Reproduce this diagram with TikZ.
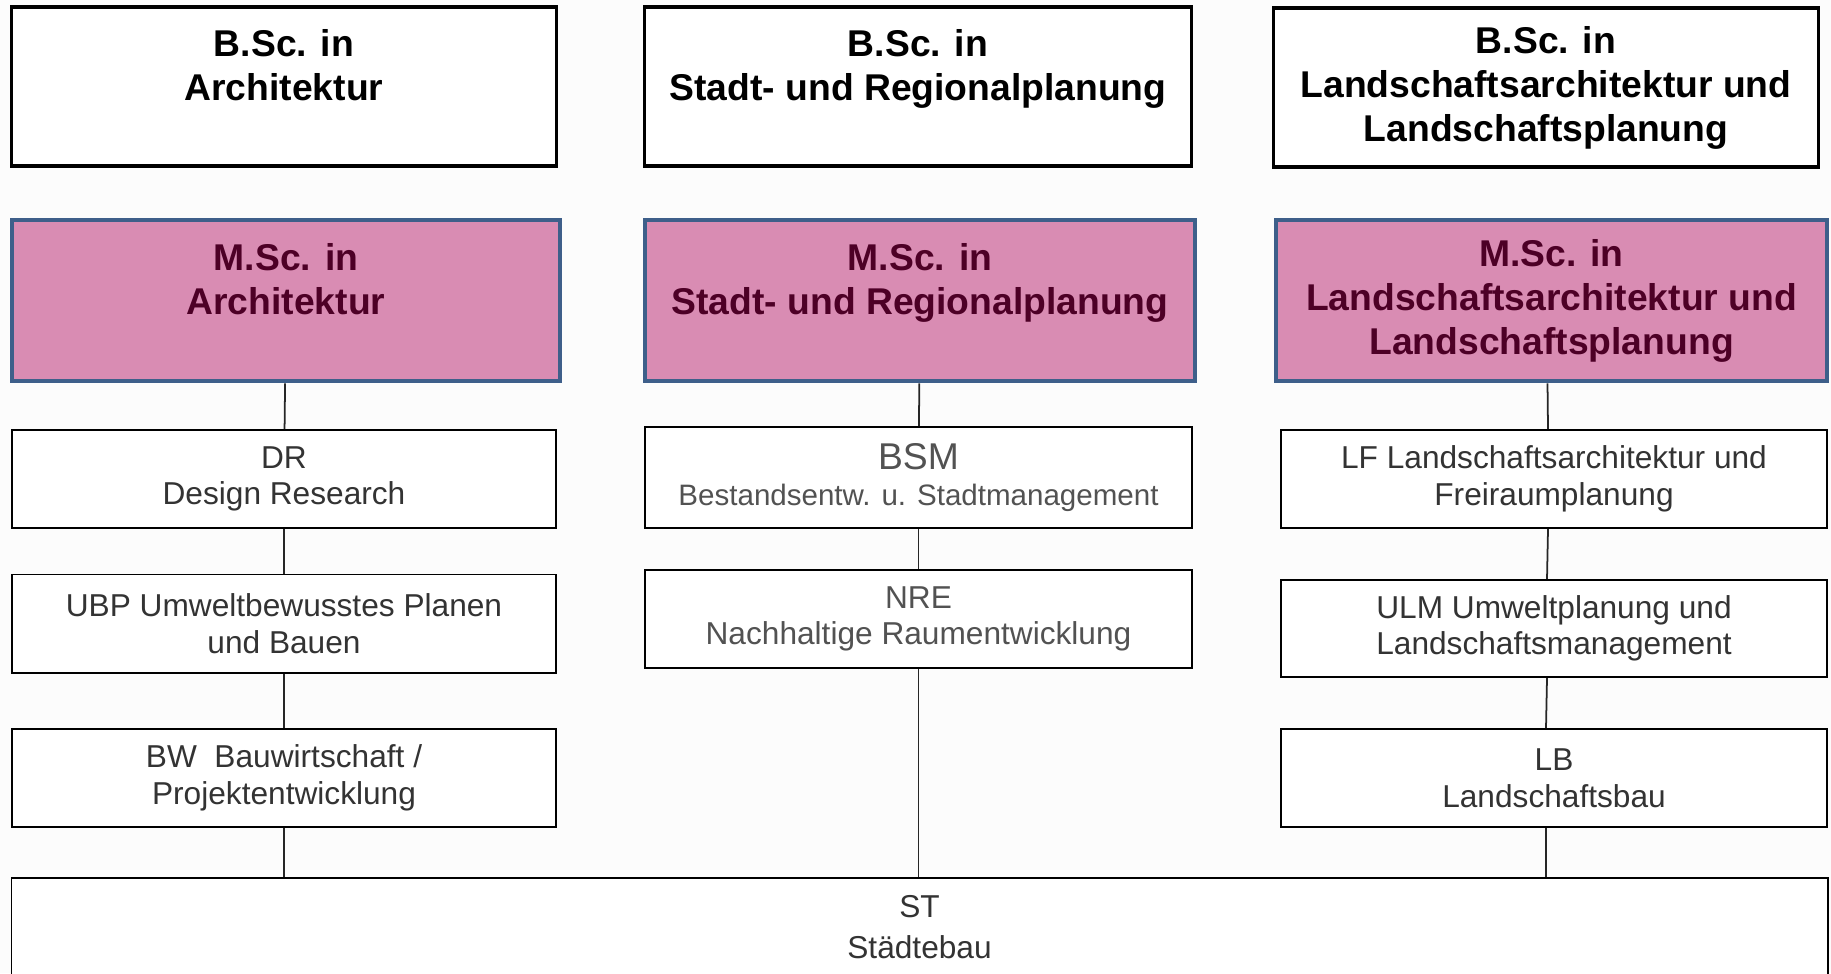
\documentclass[tikz,border=0pt]{standalone}
\usepackage{fontspec}
\setmainfont{Liberation Sans}
\usepackage{tikz}
\usetikzlibrary{positioning}
\definecolor{mscfill}{HTML}{D98CB3}
\definecolor{mscline}{HTML}{3E5F8A}
\definecolor{msctext}{HTML}{4D0026}
\tikzset{
	box/.style={draw,line width=0.55pt,fill=white,align=center,inner sep=0pt,
		minimum width=5.46cm,minimum height=0.98cm,text=black!80,
		font=\fontsize{9}{10.4}\selectfont},
	graybox/.style={box,text=black!68},
	bsc/.style={box,line width=0.9pt,minimum width=5.44cm,minimum height=1.59cm,text=black,
		font=\bfseries\fontsize{10.6}{12.5}\selectfont},
	msc/.style={bsc,draw=mscline,line width=1.3pt,fill=mscfill,text=msctext,
		minimum width=5.5cm,minimum height=1.61cm},
	link/.style={draw=black!85,line width=0.5pt}
}

\begin{document}
\begin{tikzpicture}[x=0.01cm,y=-0.01cm]
      \fill[black!1] (0,0) rectangle (1831,973);
      \useasboundingbox (0,0) rectangle (1831,973);
      % Bachelor
      \node [bsc] (BscA) at (284,86.5) {B.Sc. in\\Architektur\\\mbox{}};
      \node [bsc,minimum width=5.46cm] (BscB) at (918,86.5) {B.Sc. in\\Stadt- und Regionalplanung\\\mbox{}};
      \node [bsc] (BscC) at (1546,87.5) {B.Sc. in\\Landschaftsarchitektur und\\Landschaftsplanung};
      % Master
      \node [msc,minimum width=5.48cm] (MscA) at (286,300.5) {M.Sc. in\\Architektur\\\mbox{}};
      \node [msc] (MscB) at (920,300.5) {M.Sc. in\\Stadt- und Regionalplanung\\\mbox{}};
      \node [msc,minimum width=5.51cm] (MscC) at (1551.5,300.5) {M.Sc. in\\Landschaftsarchitektur und\\Landschaftsplanung};
      % Architektur
      \node [box,minimum width=5.44cm] (DR) at (284,479) {DR\\Design Research};
      \node [box,minimum width=5.44cm] (UBP) at (284,623.5) {UBP Umweltbewusstes Planen\\und Bauen};
      \node [box,minimum width=5.44cm] (BW) at (284,778) {BW~~Bauwirtschaft /\\Projektentwicklung};
      % Stadt- und Regionalplanung
      \node [graybox,minimum height=1.01cm] (BSM) at (918.5,477.5)
            {{\fontsize{10.6}{12}\selectfont BSM}\\{\fontsize{8.4}{10.4}\selectfont Bestandsentw. u. Stadtmanagement}};
      \node [graybox] (NRE) at (918.5,619) {NRE\\Nachhaltige Raumentwicklung};
      % Landschaftsarchitektur
      \node [box] (LF) at (1554,479) {LF Landschaftsarchitektur und\\Freiraumplanung};
      \node [box,minimum height=0.97cm] (ULM) at (1554,628.5) {ULM Umweltplanung und\\Landschaftsmanagement};
      \node [box] (LB) at (1554,778) {LB\\Landschaftsbau};
      % Staedtebau
      \node [box,minimum width=18.15cm,font=\fontsize{9}{11.6}\selectfont] (ST) at (919.5,927) {ST\\Städtebau};
      \draw [link] (MscA) -- (DR);
      \draw [link] (DR) -- (UBP);
      \draw [link] (UBP) -- (BW);
      \draw [link] (BW) -- (BW |- ST.north);
      \draw [link] (MscB) -- (BSM);
      \draw [link] (BSM) -- (NRE);
      \draw [link] (NRE) -- (NRE |- ST.north);
      \draw [link] ([xshift=-0.04cm]MscC.south) -- ([xshift=-0.06cm]LF.north);
      \draw [link] ([xshift=-0.06cm]LF.south) -- ([xshift=-0.07cm]ULM.north);
      \draw [link] ([xshift=-0.07cm]ULM.south) -- ([xshift=-0.08cm]LB.north);
      \draw [link] ([xshift=-0.08cm]LB.south) -- ([xshift=-0.08cm]LB.south |- ST.north);
   \end{tikzpicture}
\end{document}
